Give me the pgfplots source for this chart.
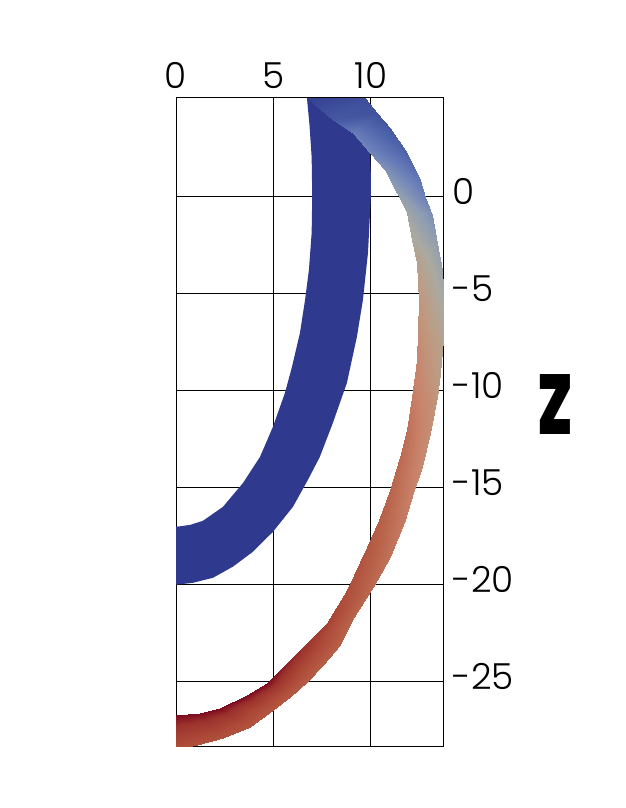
\documentclass[border=0pt]{standalone}
\usepackage{fontspec}
\setmainfont{Poppins}[UprightFont=* Light,BoldFont=* Black]
\usepackage{pgfplots}
\pgfplotsset{compat=1.18}
\definecolor{bandblue}{RGB}{47,58,143}

% band with colour across it: x y t, inner and outer edge per station
\pgfplotstableread{
x y t
6.72 5.04 0.03
9.69 5.04 0.10
8.05 3.91 0.15
10.31 4.27 0.12
9.08 3.24 0.30
10.97 3.50 0.15
9.95 2.21 0.33
11.85 2.21 0.20
10.72 1.34 0.37
12.51 0.82 0.27
11.33 0.15 0.42
12.77 -0.05 0.31
11.85 -0.87 0.47
13.13 -0.98 0.36
12.10 -2.26 0.52
13.38 -2.42 0.42
12.36 -3.44 0.57
13.64 -3.80 0.45
12.41 -4.47 0.60
13.69 -4.68 0.47
12.46 -5.35 0.62
13.74 -5.86 0.50
12.41 -6.89 0.65
13.69 -7.40 0.55
12.36 -8.43 0.68
13.54 -9.10 0.58
12.10 -10.33 0.72
13.38 -10.33 0.62
11.85 -12.03 0.76
13.03 -12.19 0.65
11.49 -13.42 0.78
12.62 -13.93 0.67
10.97 -15.12 0.80
12.15 -15.27 0.70
10.41 -16.66 0.82
11.74 -16.66 0.72
9.79 -18.05 0.85
10.97 -18.56 0.75
8.77 -20.26 0.88
10.10 -20.10 0.78
7.74 -21.95 0.92
9.03 -21.80 0.80
6.87 -22.83 0.95
8.41 -23.08 0.81
6.21 -23.50 0.97
7.54 -24.11 0.82
5.33 -24.37 0.985
6.72 -24.99 0.83
4.67 -25.04 1.00
5.85 -25.76 0.84
3.64 -25.66 1.00
4.97 -26.43 0.85
2.26 -26.32 1.00
3.79 -27.30 0.86
1.23 -26.58 1.00
2.41 -27.87 0.87
0.62 -26.63 1.00
1.08 -28.23 0.87
0.00 -26.68 1.00
0.00 -28.43 0.88
}\warmband

\begin{document}
\begin{tikzpicture}
\path (0bp,0bp) rectangle (626bp,808bp);
\begin{axis}[
    at={(176bp,61bp)}, anchor=south west,
    scale only axis, width=267bp, height=649bp,
    xmin=0, xmax=13.7, ymin=-28.35, ymax=5.05,
    xtick={0,5,10}, ytick={-25,-20,-15,-10,-5,0},
    xticklabels={0,5,10},
    yticklabels={-25,-20,-15,-10,-5,0},
    xticklabel pos=top, yticklabel pos=right,
    grid=major, major grid style={black,line width=1bp},
    axis line style={black,line width=1bp},
    major tick length=0pt,
    tick label style={font=\fontsize{36}{36}\selectfont},
    xticklabel style={yshift=6bp},
    yticklabel style={anchor=west,xshift=6bp,yshift=5bp},
    colormap={coolwarm}{
        rgb255(0pt)=(47,58,143) rgb255(10pt)=(62,78,155) rgb255(20pt)=(78,100,170)
        rgb255(30pt)=(105,125,185) rgb255(40pt)=(140,155,180) rgb255(50pt)=(170,170,160)
        rgb255(60pt)=(190,155,130) rgb255(70pt)=(200,130,105) rgb255(80pt)=(185,100,75)
        rgb255(90pt)=(172,72,55) rgb255(96pt)=(155,50,45) rgb255(100pt)=(125,10,30)},
    point meta min=0, point meta max=1,
]
\addplot[fill=bandblue,draw=none] coordinates {
    (6.72,5.04) (6.85,3.65) (6.96,2.01) (6.99,0) (6.96,-1.90) (6.82,-3.80)
    (6.62,-5.35) (6.36,-7.04) (5.95,-8.79) (5.59,-10.13) (4.97,-11.88)
    (4.31,-13.42) (3.44,-14.76) (2.41,-15.99) (1.38,-16.71) (0.72,-16.92) (0,-17.02)
    (0,-20) (0.87,-19.90) (1.90,-19.64) (2.92,-19.07) (3.95,-18.30) (4.97,-17.28)
    (6.00,-15.99) (6.77,-14.60) (7.38,-13.42) (8.05,-11.67) (8.77,-9.61)
    (9.28,-7.25) (9.59,-5.35) (9.85,-2.93) (10.0,0) (10.0,1.08) (9.95,2.21)
    (9.79,3.65) (9.64,5.04)
} -- cycle;
\addplot[surf,shader=interp,mesh/cols=2,point meta=\thisrow{t}]
    table[x=x,y=y] {\warmband};
\end{axis}
\node[anchor=center,font=\fontsize{85}{85}\selectfont\bfseries] at (555bp,403bp) {\scalebox{0.67}[1]{Z}};
\end{tikzpicture}
\end{document}
